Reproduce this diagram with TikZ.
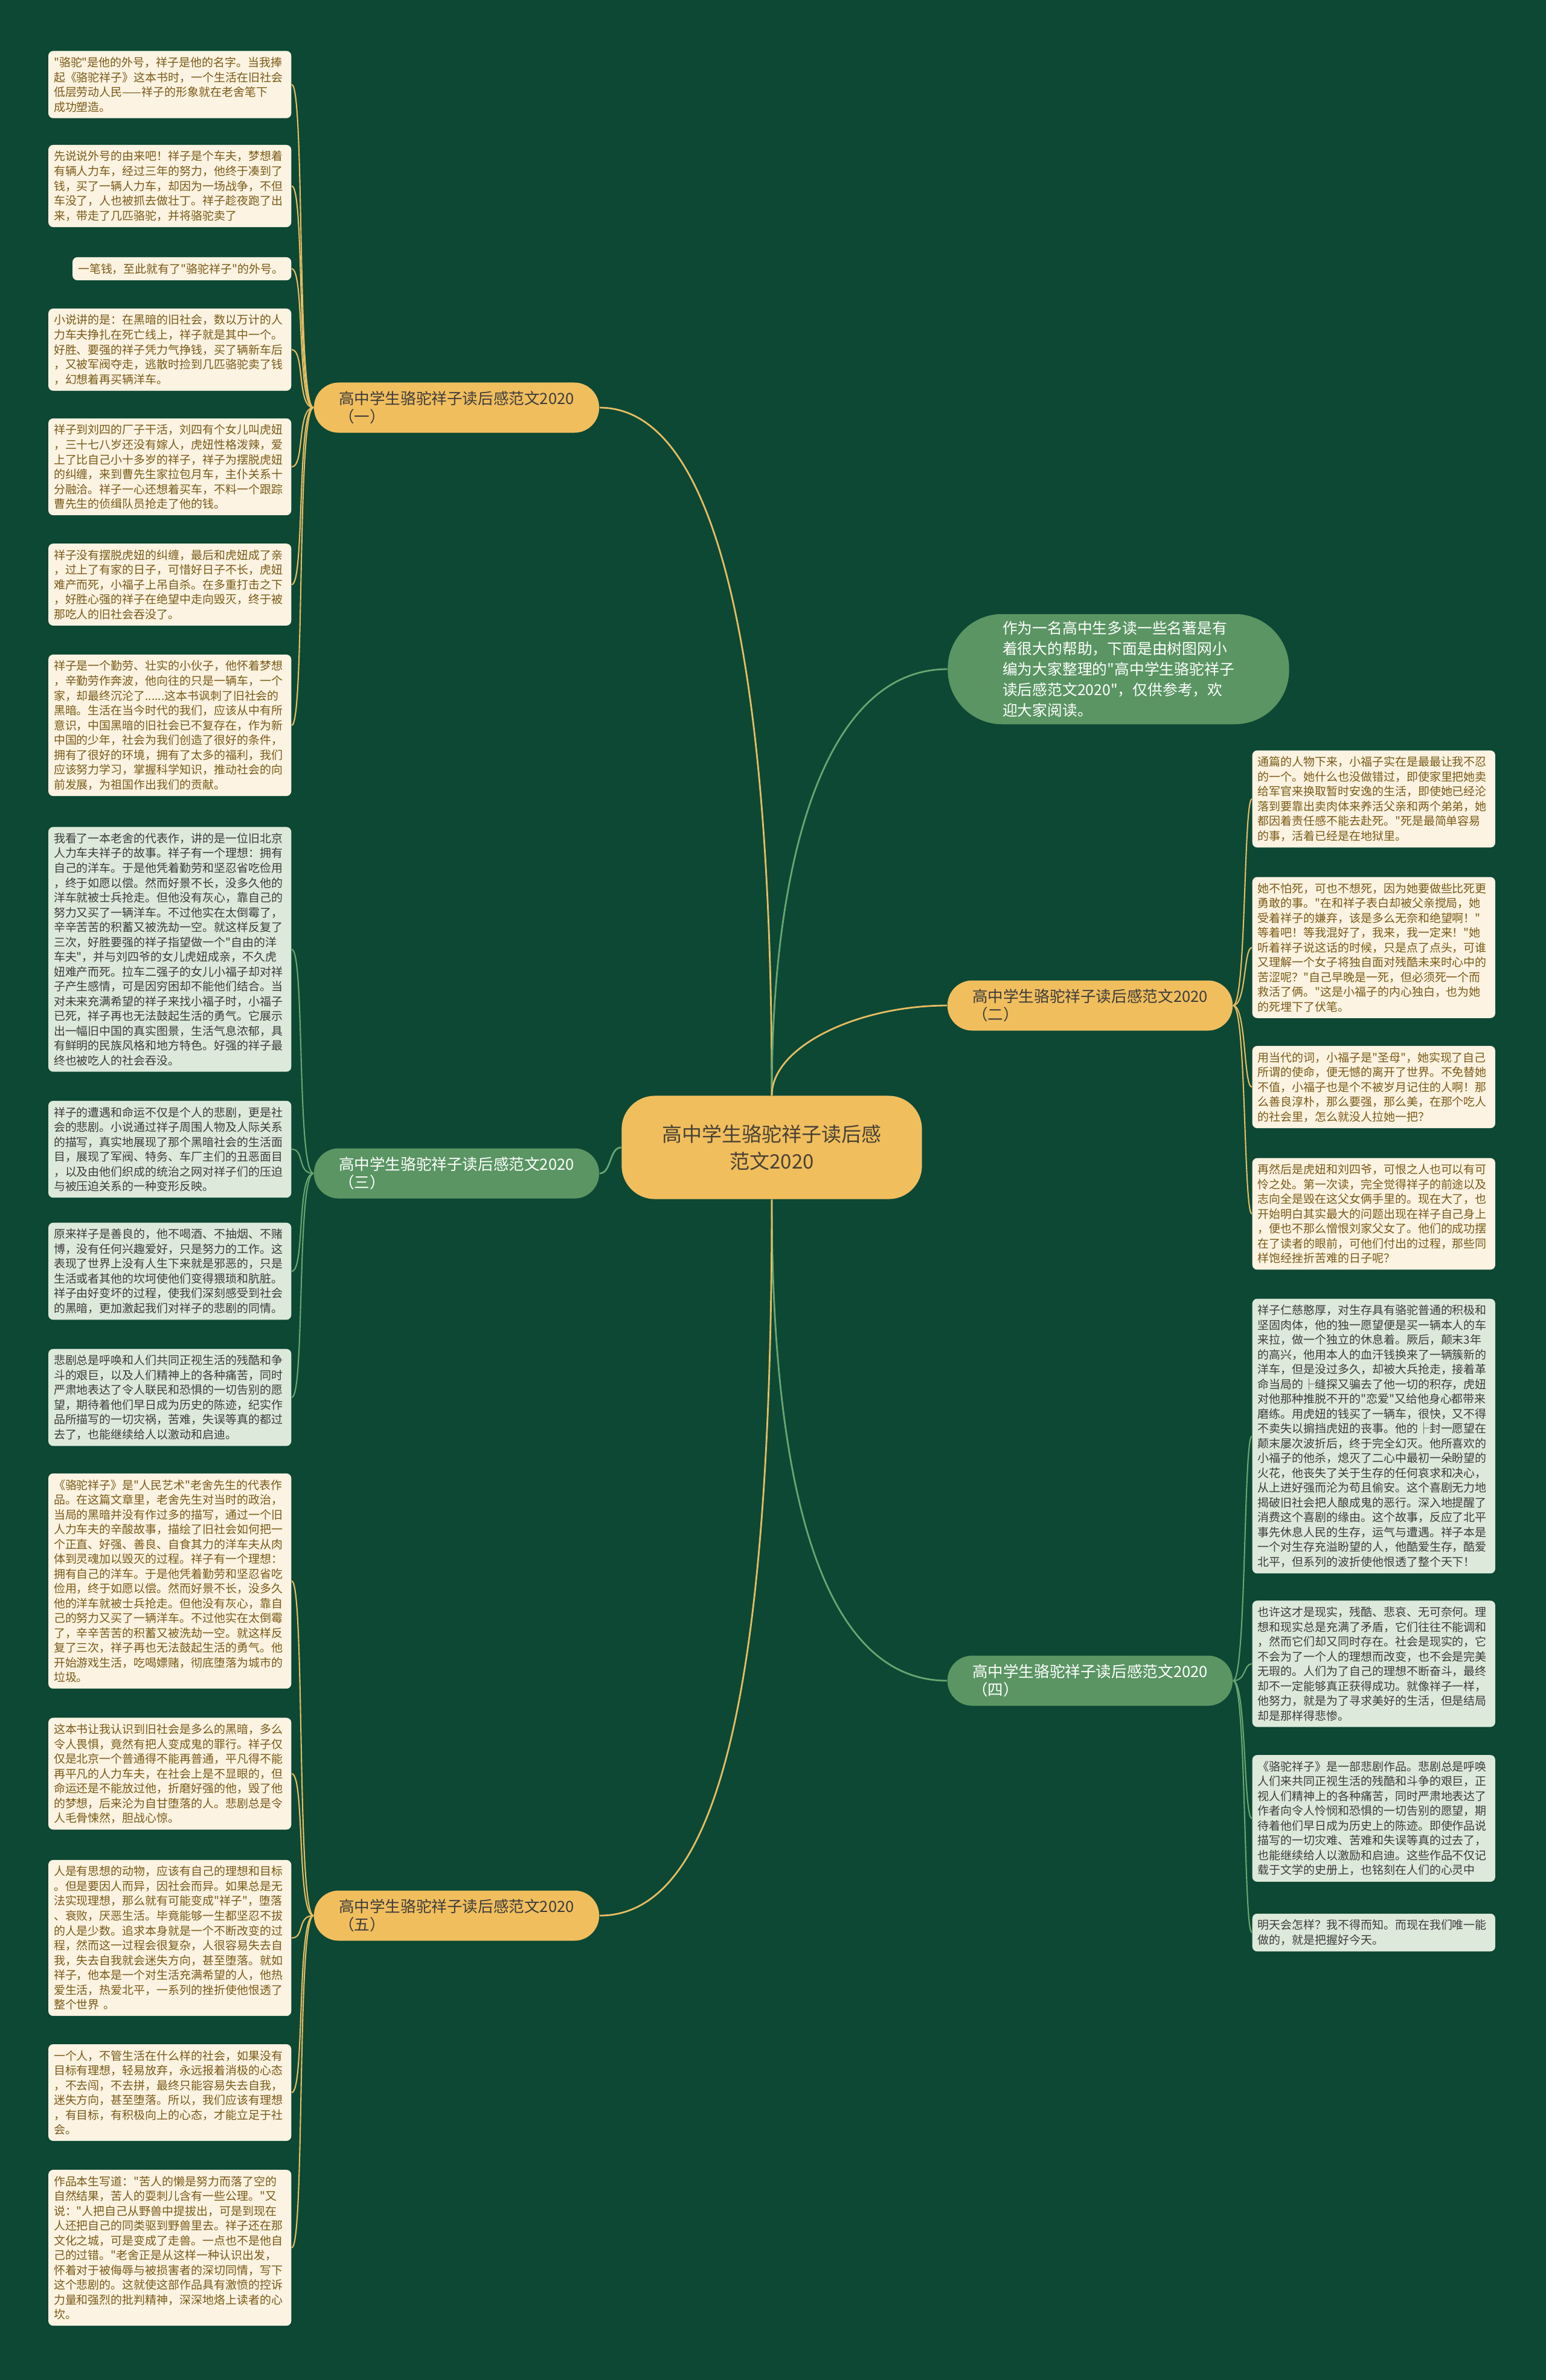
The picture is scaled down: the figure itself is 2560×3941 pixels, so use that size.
\documentclass[tikz,border=0pt]{standalone}
\usepackage{fontspec}
\setmainfont{Noto Sans CJK SC}[Ligatures=TeXOff]
\usepackage{xcolor}
\usepackage{tikz}

\definecolor{bgcol}{HTML}{0C4834}
\definecolor{goldcol}{HTML}{F1BE5E}
\definecolor{greencol}{HTML}{5A9563}
\definecolor{creamcol}{HTML}{FCF3E2}
\definecolor{mintcol}{HTML}{DDE9DA}
\definecolor{browntext}{HTML}{7A5A17}
\definecolor{darktext}{HTML}{3C3C3C}
\definecolor{goldwire}{HTML}{E7BC62}
\definecolor{greenwire}{HTML}{6AA571}

\begin{document}
\begin{tikzpicture}[x=0.01cm,y=-0.01cm,
  leafbase/.style={rounded corners=0.08cm,align=left,inner xsep=0.09cm,inner ysep=0.1cm,
    font=\fontsize{5.39pt}{6.97pt}\selectfont},
  leafy/.style={leafbase,fill=creamcol,text=browntext,text width=3.84cm},
  leafg/.style={leafbase,fill=mintcol,text=darktext,text width=3.84cm},
  branchy/.style={fill=goldcol,text=darktext,rounded corners=0.41cm,align=left,
    minimum width=4.72cm,minimum height=0.83cm,inner xsep=0.3cm,
    font=\fontsize{7.28pt}{8.54pt}\selectfont},
  branchg/.style={branchy,fill=greencol,text=white},
  goldline/.style={draw=goldwire,line width=0.6pt},
  greenline/.style={draw=greenwire,line width=0.6pt}]

  \fill[bgcol] (0,0) rectangle (2560,3941);

  \node[fill=goldcol,text=darktext!80!browntext,rounded corners=0.55cm,align=center,
    minimum width=4.97cm,minimum height=1.71cm,
    font=\fontsize{9.39pt}{12.8pt}\selectfont] (c) at (1278,1900)
    {高中学生骆驼祥子读后感\\范文2020};

  \node[fill=greencol,text=white,rounded corners=0.9cm,align=left,
    minimum width=5.65cm,minimum height=1.81cm,
    font=\fontsize{7.05pt}{9.67pt}\selectfont] (intro) at (1852,1108)
    {作为一名高中生多读一些名著是有\\
     着很大的帮助，下面是由树图网小\\
     编为大家整理的"高中学生骆驼祥子\\
     读后感范文2020"，仅供参考，欢\\
     迎大家阅读。};

  \node[branchy] (b1) at (756,675) {高中学生骆驼祥子读后感范文2020\\（一）};
  \node[branchy] (b2) at (1805,1665) {高中学生骆驼祥子读后感范文2020\\（二）};
  \node[branchg] (b3) at (756,1943) {高中学生骆驼祥子读后感范文2020\\（三）};
  \node[branchg] (b4) at (1805,2783) {高中学生骆驼祥子读后感范文2020\\（四）};
  \node[branchy] (b5) at (756,3172) {高中学生骆驼祥子读后感范文2020\\（五）};

  \draw[goldline,line width=0.8pt] (c.north) .. controls +(0,-700) and +(200,0) .. (b1.east);
  \draw[greenline,line width=0.8pt] (c.north) .. controls +(0,-400) and +(-200,0) .. (intro.west);
  \draw[goldline,line width=0.8pt] (c.north) .. controls +(0,-80) and +(-150,0) .. (b2.west);
  \draw[greenline,line width=0.8pt] (c.west) .. controls +(-20,0) and +(20,0) .. (b3.east);
  \draw[greenline,line width=0.8pt] (c.south) .. controls +(0,500) and +(-200,0) .. (b4.west);
  \draw[goldline,line width=0.8pt] (c.south) .. controls +(0,800) and +(200,0) .. (b5.east);

  \node[leafy,anchor=east] (l1) at (483,140)
    {"骆驼"是他的外号，祥子是他的名字。当我捧\\
     起《骆驼祥子》这本书时，一个生活在旧社会\\
     低层劳动人民——祥子的形象就在老舍笔下\\
     成功塑造。};
  \node[leafy,anchor=east] (l2) at (483,308)
    {先说说外号的由来吧！祥子是个车夫，梦想着\\
     有辆人力车，经过三年的努力，他终于凑到了\\
     钱，买了一辆人力车，却因为一场战争，不但\\
     车没了，人也被抓去做壮丁。祥子趁夜跑了出\\
     来，带走了几匹骆驼，并将骆驼卖了};
  \node[leafy,text width=3.44cm,anchor=east] (l3) at (483,445)
    {一笔钱，至此就有了"骆驼祥子"的外号。};
  \node[leafy,anchor=east] (l4) at (483,579)
    {小说讲的是：在黑暗的旧社会，数以万计的人\\
     力车夫挣扎在死亡线上，祥子就是其中一个。\\
     好胜、要强的祥子凭力气挣钱，买了辆新车后\\
     ，又被军阀夺走，逃散时捡到几匹骆驼卖了钱\\
     ，幻想着再买辆洋车。};
  \node[leafy,anchor=east] (l5) at (483,773)
    {祥子到刘四的厂子干活，刘四有个女儿叫虎妞\\
     ，三十七八岁还没有嫁人，虎妞性格泼辣，爱\\
     上了比自己小十多岁的祥子，祥子为摆脱虎妞\\
     的纠缠，来到曹先生家拉包月车，主仆关系十\\
     分融洽。祥子一心还想着买车，不料一个跟踪\\
     曹先生的侦缉队员抢走了他的钱。};
  \node[leafy,anchor=east] (l6) at (483,968)
    {祥子没有摆脱虎妞的纠缠，最后和虎妞成了亲\\
     ，过上了有家的日子，可惜好日子不长，虎妞\\
     难产而死，小福子上吊自杀。在多重打击之下\\
     ，好胜心强的祥子在绝望中走向毁灭，终于被\\
     那吃人的旧社会吞没了。};
  \node[leafy,anchor=east] (l7) at (483,1201)
    {祥子是一个勤劳、壮实的小伙子，他怀着梦想\\
     ，辛勤劳作奔波，他向往的只是一辆车，一个\\
     家，却最终沉沦了......这本书讽刺了旧社会的\\
     黑暗。生活在当今时代的我们，应该从中有所\\
     意识，中国黑暗的旧社会已不复存在，作为新\\
     中国的少年，社会为我们创造了很好的条件，\\
     拥有了很好的环境，拥有了太多的福利，我们\\
     应该努力学习，掌握科学知识，推动社会的向\\
     前发展，为祖国作出我们的贡献。};

  \node[leafg,anchor=east] (l8) at (483,1572)
    {我看了一本老舍的代表作，讲的是一位旧北京\\
     人力车夫祥子的故事。祥子有一个理想：拥有\\
     自己的洋车。于是他凭着勤劳和坚忍省吃俭用\\
     ，终于如愿以偿。然而好景不长，没多久他的\\
     洋车就被士兵抢走。但他没有灰心，靠自己的\\
     努力又买了一辆洋车。不过他实在太倒霉了，\\
     辛辛苦苦的积蓄又被洗劫一空。就这样反复了\\
     三次，好胜要强的祥子指望做一个"自由的洋\\
     车夫"，并与刘四爷的女儿虎妞成亲，不久虎\\
     妞难产而死。拉车二强子的女儿小福子却对祥\\
     子产生感情，可是因穷困却不能他们结合。当\\
     对未来充满希望的祥子来找小福子时，小福子\\
     已死，祥子再也无法鼓起生活的勇气。它展示\\
     出一幅旧中国的真实图景，生活气息浓郁，具\\
     有鲜明的民族风格和地方特色。好强的祥子最\\
     终也被吃人的社会吞没。};
  \node[leafg,anchor=east] (l9) at (483,1903)
    {祥子的遭遇和命运不仅是个人的悲剧，更是社\\
     会的悲剧。小说通过祥子周围人物及人际关系\\
     的描写，真实地展现了那个黑暗社会的生活面\\
     目，展现了军阀、特务、车厂主们的丑恶面目\\
     ，以及由他们织成的统治之网对祥子们的压迫\\
     与被压迫关系的一种变形反映。};
  \node[leafg,anchor=east] (l10) at (483,2105)
    {原来祥子是善良的，他不喝酒、不抽烟、不赌\\
     博，没有任何兴趣爱好，只是努力的工作。这\\
     表现了世界上没有人生下来就是邪恶的，只是\\
     生活或者其他的坎坷使他们变得猥琐和肮脏。\\
     祥子由好变坏的过程，使我们深刻感受到社会\\
     的黑暗，更加激起我们对祥子的悲剧的同情。};
  \node[leafg,anchor=east] (l11) at (483,2314)
    {悲剧总是呼唤和人们共同正视生活的残酷和争\\
     斗的艰巨，以及人们精神上的各种痛苦，同时\\
     严肃地表达了令人联民和恐惧的一切告别的愿\\
     望，期待着他们早日成为历史的陈迹，纪实作\\
     品所描写的一切灾祸，苦难，失误等真的都过\\
     去了，也能继续给人以激动和启迪。};

  \node[leafy,anchor=east] (l12) at (483,2618)
    {《骆驼祥子》是"人民艺术"老舍先生的代表作\\
     品。在这篇文章里，老舍先生对当时的政治，\\
     当局的黑暗并没有作过多的描写，通过一个旧\\
     人力车夫的辛酸故事，描绘了旧社会如何把一\\
     个正直、好强、善良、自食其力的洋车夫从肉\\
     体到灵魂加以毁灭的过程。祥子有一个理想：\\
     拥有自己的洋车。于是他凭着勤劳和坚忍省吃\\
     俭用，终于如愿以偿。然而好景不长，没多久\\
     他的洋车就被士兵抢走。但他没有灰心，靠自\\
     己的努力又买了一辆洋车。不过他实在太倒霉\\
     了，辛辛苦苦的积蓄又被洗劫一空。就这样反\\
     复了三次，祥子再也无法鼓起生活的勇气。他\\
     开始游戏生活，吃喝嫖赌，彻底堕落为城市的\\
     垃圾。};
  \node[leafy,anchor=east] (l13) at (483,2937)
    {这本书让我认识到旧社会是多么的黑暗，多么\\
     令人畏惧，竟然有把人变成鬼的罪行。祥子仅\\
     仅是北京一个普通得不能再普通，平凡得不能\\
     再平凡的人力车夫，在社会上是不显眼的，但\\
     命运还是不能放过他，折磨好强的他，毁了他\\
     的梦想，后来沦为自甘堕落的人。悲剧总是令\\
     人毛骨悚然，胆战心惊。};
  \node[leafy,anchor=east] (l14) at (483,3209)
    {人是有思想的动物，应该有自己的理想和目标\\
     。但是要因人而异，因社会而异。如果总是无\\
     法实现理想，那么就有可能变成"祥子"，堕落\\
     、衰败，厌恶生活。毕竟能够一生都坚忍不拔\\
     的人是少数。追求本身就是一个不断改变的过\\
     程，然而这一过程会很复杂，人很容易失去自\\
     我，失去自我就会迷失方向，甚至堕落。就如\\
     祥子，他本是一个对生活充满希望的人，他热\\
     爱生活，热爱北平，一系列的挫折使他恨透了\\
     整个世界 。};
  \node[leafy,anchor=east] (l15) at (483,3465)
    {一个人，不管生活在什么样的社会，如果没有\\
     目标有理想，轻易放弃，永远报着消极的心态\\
     ，不去闯，不去拼，最终只能容易失去自我，\\
     迷失方向，甚至堕落。所以，我们应该有理想\\
     ，有目标，有积极向上的心态，才能立足于社\\
     会。};
  \node[leafy,anchor=east] (l16) at (483,3722)
    {作品本生写道："苦人的懒是努力而落了空的\\
     自然结果，苦人的耍刺儿含有一些公理。"又\\
     说："人把自己从野兽中提拔出，可是到现在\\
     人还把自己的同类驱到野兽里去。祥子还在那\\
     文化之城，可是变成了走兽。一点也不是他自\\
     己的过错。"老舍正是从这样一种认识出发，\\
     怀着对于被侮辱与被损害者的深切同情，写下\\
     这个悲剧的。这就使这部作品具有激愤的控诉\\
     力量和强烈的批判精神，深深地烙上读者的心\\
     坎。};

  \node[leafy,anchor=west] (r1) at (2073,1323)
    {通篇的人物下来，小福子实在是最最让我不忍\\
     的一个。她什么也没做错过，即使家里把她卖\\
     给军官来换取暂时安逸的生活，即使她已经沦\\
     落到要靠出卖肉体来养活父亲和两个弟弟，她\\
     都因着责任感不能去赴死。"死是最简单容易\\
     的事，活着已经是在地狱里。};
  \node[leafy,anchor=west] (r2) at (2073,1569)
    {她不怕死，可也不想死，因为她要做些比死更\\
     勇敢的事。"在和祥子表白却被父亲搅局，她\\
     受着祥子的嫌弃，该是多么无奈和绝望啊！"\\
     等着吧！等我混好了，我来，我一定来！"她\\
     听着祥子说这话的时候，只是点了点头，可谁\\
     又理解一个女子将独自面对残酷未来时心中的\\
     苦涩呢？"自己早晚是一死，但必须死一个而\\
     救活了俩。"这是小福子的内心独白，也为她\\
     的死埋下了伏笔。};
  \node[leafy,anchor=west] (r3) at (2073,1800)
    {用当代的词，小福子是"圣母"，她实现了自己\\
     所谓的使命，便无憾的离开了世界。不免替她\\
     不值，小福子也是个不被岁月记住的人啊！那\\
     么善良淳朴，那么要强，那么美，在那个吃人\\
     的社会里，怎么就没人拉她一把？};
  \node[leafy,anchor=west] (r4) at (2073,2010)
    {再然后是虎妞和刘四爷，可恨之人也可以有可\\
     怜之处。第一次读，完全觉得祥子的前途以及\\
     志向全是毁在这父女俩手里的。现在大了，也\\
     开始明白其实最大的问题出现在祥子自己身上\\
     ，便也不那么憎恨刘家父女了。他们的成功摆\\
     在了读者的眼前，可他们付出的过程，那些同\\
     样饱经挫折苦难的日子呢？};

  \node[leafg,anchor=west] (r5) at (2073,2378)
    {祥子仁慈憨厚，对生存具有骆驼普通的积极和\\
     坚固肉体，他的独一愿望便是买一辆本人的车\\
     来拉，做一个独立的休息着。厥后，颠末3年\\
     的高兴，他用本人的血汗钱换来了一辆簇新的\\
     洋车，但是没过多久，却被大兵抢走，接着革\\
     命当局的├缝探又骗去了他一切的积存，虎妞\\
     对他那种推脱不开的"恋爱"又给他身心都带来\\
     磨练。用虎妞的钱买了一辆车，很快，又不得\\
     不卖失以掮挡虎妞的丧事。他的├封一愿望在\\
     颠末屡次波折后，终于完全幻灭。他所喜欢的\\
     小福子的他杀，熄灭了二心中最初一朵盼望的\\
     火花，他丧失了关于生存的任何哀求和决心，\\
     从上进好强而沦为苟且偷安。这个喜剧无力地\\
     揭破旧社会把人酿成鬼的恶行。深入地提醒了\\
     消费这个喜剧的缘由。这个故事，反应了北平\\
     事先休息人民的生存，运气与遭遇。祥子本是\\
     一个对生存充溢盼望的人，他酷爱生存，酷爱\\
     北平，但系列的波折使他恨透了整个天下！};
  \node[leafg,anchor=west] (r6) at (2073,2755)
    {也许这才是现实，残酷、悲哀、无可奈何。理\\
     想和现实总是充满了矛盾，它们往往不能调和\\
     ，然而它们却又同时存在。社会是现实的，它\\
     不会为了一个人的理想而改变，也不会是完美\\
     无瑕的。人们为了自己的理想不断奋斗，最终\\
     却不一定能够真正获得成功。就像祥子一样，\\
     他努力，就是为了寻求美好的生活，但是结局\\
     却是那样得悲惨。};
  \node[leafg,anchor=west] (r7) at (2073,3011)
    {《骆驼祥子》是一部悲剧作品。悲剧总是呼唤\\
     人们来共同正视生活的残酷和斗争的艰巨，正\\
     视人们精神上的各种痛苦，同时严肃地表达了\\
     作者向令人怜悯和恐惧的一切告别的愿望，期\\
     待着他们早日成为历史上的陈迹。即使作品说\\
     描写的一切灾难、苦难和失误等真的过去了，\\
     也能继续给人以激励和启迪。这些作品不仅记\\
     载于文学的史册上，也铭刻在人们的心灵中};
  \node[leafg,anchor=west] (r8) at (2073,3200)
    {明天会怎样？我不得而知。而现在我们唯一能\\
     做的，就是把握好今天。};

  \foreach \leaf in {l1,l2,l3,l4,l5,l6,l7}
    \draw[goldline] (b1.west) .. controls +(-28,0) and +(22,0) .. (\leaf.east);
  \foreach \leaf in {l8,l9,l10,l11}
    \draw[greenline] (b3.west) .. controls +(-28,0) and +(22,0) .. (\leaf.east);
  \foreach \leaf in {l12,l13,l14,l15,l16}
    \draw[goldline] (b5.west) .. controls +(-28,0) and +(22,0) .. (\leaf.east);
  \foreach \leaf in {r1,r2,r3,r4}
    \draw[goldline] (b2.east) .. controls +(22,0) and +(-14,0) .. (\leaf.west);
  \foreach \leaf in {r5,r6,r7,r8}
    \draw[greenline] (b4.east) .. controls +(22,0) and +(-14,0) .. (\leaf.west);
\end{tikzpicture}
\end{document}
